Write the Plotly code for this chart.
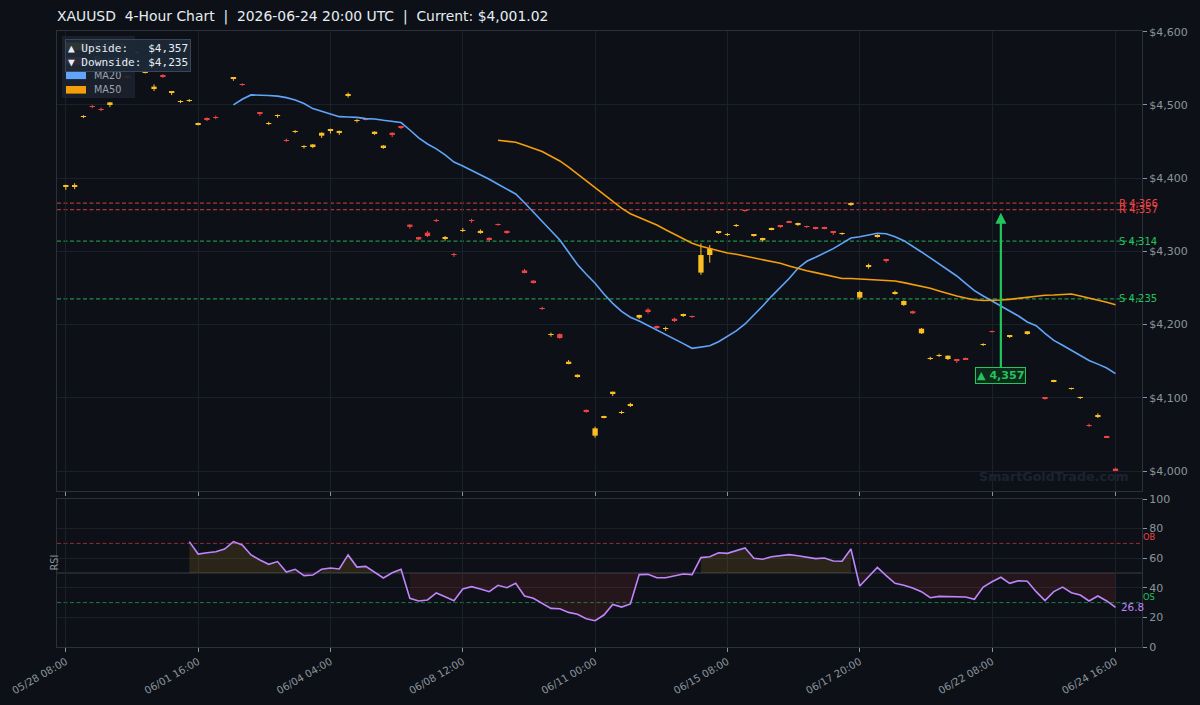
import plotly.graph_objects as go

# ---------------- data ----------------
tick_idx = [0, 15, 30, 45, 60, 75, 90, 105, 119]
tick_labels = ["05/28 08:00", "06/01 16:00", "06/04 04:00", "06/08 12:00", "06/11 00:00",
               "06/15 08:00", "06/17 20:00", "06/22 08:00", "06/24 16:00"]

opens = [4388, 4388, 4483.9, 4497.8, 4494.1, 4501, 4526, 4540, 4571.4, 4544.9,
         4522.5, 4539.7, 4516.5, 4504.4, 4505.9, 4473.9, 4482, 4483.1, 4510, 4535.5,
         4527.8, 4510, 4490, 4474.9, 4484.9, 4452.1, 4463.4, 4442.9, 4443.5, 4458,
         4464.5, 4462, 4512.5, 4478.4, 4480.6, 4461.5, 4442, 4462, 4471, 4336.5,
         4319.5, 4325.6, 4342.6, 4317, 4295.6, 4328.9, 4342.1, 4326, 4318.5, 4336.6,
         4328, 4300, 4274, 4260, 4222.1, 4185.9, 4187, 4147.5, 4129.5, 4083.5,
         4048.3, 4073.7, 4105.2, 4080, 4089.7, 4209.4, 4220.4, 4198.1, 4194.1, 4208,
         4213, 4210.7, 4271, 4295, 4325.1, 4323, 4335.3, 4355.5, 4321, 4315.2,
         4330.2, 4336, 4341.5, 4336, 4333.6, 4332.8, 4333.3, 4327, 4323.9, 4363.4,
         4236.8, 4279.1, 4320.9, 4289.6, 4242.8, 4226.8, 4218.2, 4188.1, 4153.8, 4157.9,
         4153, 4152.1, 4154.4, 4160, 4172.5, 4190.4, 4185, 4183.5, 4186, 4188.5,
         4150, 4100.7, 4122.9, 4120, 4112.3, 4099.9, 4062.5, 4074.7, 4046.6, 4003.2]
highs = [4391, 4393, 4486, 4500, 4496.5, 4504, 4527, 4541, 4573.5, 4547,
         4528, 4542, 4519, 4506.5, 4508, 4476, 4483, 4485.5, 4510, 4538,
         4529.5, 4510, 4490.5, 4477, 4487, 4454, 4465.5, 4445, 4446.5, 4462.5,
         4467.5, 4465, 4517, 4480.5, 4482, 4464, 4445, 4462.5, 4471.5, 4337,
         4320, 4328, 4344.5, 4321, 4298, 4332, 4344.5, 4330, 4319, 4338,
         4328.5, 4300, 4276, 4260.5, 4224.5, 4189, 4188, 4151.6, 4132, 4084,
         4060.5, 4075.5, 4108.5, 4082.4, 4093.3, 4213.5, 4222.7, 4198.5, 4197.1, 4209.4,
         4215, 4212.2, 4311, 4308.7, 4327.5, 4325.1, 4337.4, 4357, 4323.3, 4318.6,
         4332.3, 4336.3, 4342, 4339.2, 4335.1, 4333.5, 4333.6, 4327.3, 4325.6, 4366.6,
         4246.3, 4283.2, 4323.3, 4290, 4246.3, 4233.2, 4219, 4195.3, 4156.1, 4160.2,
         4157.8, 4152.4, 4155, 4160, 4174.4, 4191.7, 4185, 4185.1, 4186, 4191.1,
         4150, 4101, 4124.7, 4120, 4113.8, 4101.5, 4064.6, 4078.8, 4048.2, 4004.5]
lows = [4384, 4385, 4482, 4495.5, 4491.5, 4497, 4522, 4536, 4569.5, 4543,
        4519, 4537, 4513.5, 4502.5, 4504, 4472, 4478, 4480.5, 4510, 4533,
        4526, 4510, 4485, 4472.5, 4482.5, 4449.5, 4461.5, 4440.5, 4441, 4455,
        4461, 4459, 4510, 4476, 4479, 4459, 4440, 4456, 4467, 4331,
        4315, 4319.5, 4340, 4314.5, 4292.5, 4326.5, 4339, 4324, 4313, 4335,
        4324, 4300, 4270, 4256, 4220, 4183.5, 4180.5, 4145.8, 4127.5, 4079.5,
        4045.5, 4072, 4102.5, 4077.9, 4087.4, 4207.7, 4214.9, 4194, 4191.3, 4203.5,
        4210.4, 4209, 4268, 4284.6, 4323.8, 4321, 4333.3, 4354, 4320, 4313.2,
        4328.8, 4331.7, 4339, 4334.7, 4332, 4330, 4330.2, 4322.4, 4322.4, 4362,
        4234.5, 4276.4, 4318.7, 4284.6, 4240.8, 4225.4, 4214.6, 4187.2, 4151.6, 4155.7,
        4151.6, 4147.5, 4151.5, 4160, 4170.8, 4189, 4185, 4181.7, 4186, 4186.2,
        4150, 4097.5, 4121.2, 4120, 4111.1, 4098.4, 4060.1, 4072.4, 4045, 4000]
closes = [4390.5, 4390, 4484.1, 4497.6, 4493.9, 4503.5, 4523.5, 4537.5, 4571.6, 4545.1,
          4525, 4539.5, 4518.5, 4504.6, 4506.1, 4474.1, 4480, 4482.9, 4510, 4537.5,
          4527.6, 4510, 4488, 4475.1, 4485.1, 4451.9, 4463.6, 4443.1, 4446, 4462,
          4467, 4464.5, 4515, 4478.6, 4480.4, 4463.5, 4444.5, 4460, 4469, 4333.5,
          4316.3, 4321, 4342.4, 4319, 4295.4, 4329.1, 4341.9, 4328, 4316.5, 4336.4,
          4326, 4300, 4271.6, 4258, 4221.9, 4186.1, 4181.7, 4149.3, 4131.5, 4081.5,
          4058.3, 4073.9, 4108.3, 4080.2, 4091.5, 4213.1, 4218.2, 4195.4, 4194.3, 4205.3,
          4214.5, 4210.5, 4295, 4304, 4327, 4323.2, 4335.5, 4355.3, 4323, 4318.3,
          4332, 4334.6, 4339.8, 4338.8, 4333.4, 4331, 4331.5, 4325.1, 4324.1, 4365.2,
          4244.5, 4281.4, 4321.1, 4287.3, 4244.5, 4232.2, 4215.4, 4194.4, 4154, 4158.1,
          4157.5, 4150.3, 4152.1, 4160, 4172.7, 4190.2, 4185, 4184.8, 4186, 4190.8,
          4150, 4098.4, 4123.1, 4120, 4112.5, 4100.1, 4062.3, 4076.5, 4046.4, 4001.02]

ma20 = [4500, 4507.8, 4513.7, 4513.7, 4512.8, 4512, 4510, 4506.8, 4502, 4495,
        4491, 4487.7, 4484, 4483.6, 4483, 4481.3, 4480.9, 4479, 4478, 4476,
        4465.8, 4455, 4446.7, 4440, 4431.7, 4422, 4416.7, 4410.8, 4404.8, 4398.5,
        4391.7, 4384.8, 4378.4, 4366.5, 4353.8, 4342, 4329, 4315.6, 4298.7, 4282,
        4268.7, 4256.4, 4241.8, 4229, 4218, 4210, 4205, 4199, 4192, 4186,
        4180, 4174, 4167.6, 4169.4, 4171.2, 4176.6, 4183.5, 4191.3, 4200.8, 4212.7,
        4225.4, 4238.6, 4250.4, 4263, 4277, 4286.5, 4292, 4297.4, 4303.7, 4311,
        4318.3, 4320, 4322, 4324.7, 4324, 4320, 4314.6, 4307.4, 4299.2, 4291,
        4282.8, 4275, 4266.4, 4256.4, 4246.3, 4239, 4232.2, 4225.4, 4219, 4211.7,
        4203.5, 4198.5, 4188, 4178.5, 4171.7, 4164.9, 4158, 4151, 4146, 4140.7, 4133]
ma50 = [4451.7, 4450.8, 4449, 4445, 4441, 4436.5, 4430, 4423.5, 4415, 4405.7,
        4396, 4386.6, 4377, 4368.4, 4359, 4351.5, 4346.6, 4341.5, 4336, 4329.6,
        4323.3, 4317, 4311, 4307, 4304, 4300.5, 4297.8, 4296, 4293.7, 4291.4,
        4288.7, 4286, 4283.7, 4280, 4276.4, 4273.6, 4271, 4268, 4265.4, 4263,
        4263, 4262.3, 4262.3, 4261.4, 4260.5, 4259.6, 4257.3, 4255, 4252.3, 4249.6,
        4246, 4242.2, 4239, 4236.3, 4234, 4233, 4233, 4233.6, 4234.5, 4236,
        4238, 4239.5, 4240, 4240.4, 4241.4, 4241.8, 4239, 4236.3, 4233.6, 4230.5, 4227]
rsi = [71.2, 62.8, 63.7, 64.4, 66.2, 71.2, 68.9, 62.2, 58.8, 55.9,
       57.7, 50.7, 52.5, 48.2, 48.6, 52.5, 53.4, 52.7, 62.2, 54.0,
       54.5, 50.4, 46.6, 50.2, 52.5, 32.9, 31.1, 31.8, 36.5, 34.0,
       31.3, 39.2, 40.8, 39.2, 37.4, 41.7, 40.1, 43.0, 34.5, 32.9,
       29.5, 26.1, 25.9, 23.4, 22.1, 19.1, 17.8, 21.6, 28.8, 27.0,
       29.1, 48.9, 49.1, 46.8, 46.8, 48.2, 49.3, 48.9, 60.4, 61.0,
       63.7, 63.3, 64.9, 66.9, 59.9, 59.3, 61.0, 61.5, 62.4, 61.7,
       60.6, 59.7, 60.1, 58.1, 57.9, 66.2, 41.2, 47.5, 53.8, 48.2,
       43.0, 41.7, 39.9, 37.4, 33.3, 34.2, 34.0, 33.6, 33.8, 32.2,
       40.5, 44.1, 47.1, 43.0, 44.8, 44.4, 37.4, 31.3, 37.4, 40.5,
       36.7, 35.1, 31.1, 34.5, 31.1, 26.8]

resistance = [4366, 4357]
support = [4314, 4235]
upside_target = 4357
downside_target = 4235
signal_bar = 106
rsi_ob, rsi_os, rsi_mid = 70, 30, 50
current_price = "$4,001.02"

# ---------------- style ----------------
BG = "#0d1117"
GRID = "#1b212b"
SPINE = "#2b313a"
TXT = "#8b949e"
GOLD = "#fbbf24"
RED = "#ef4444"
GREEN = "#22c55e"
BLUE = "#60a5fa"
ORANGE = "#f59e0b"
PURPLE = "#c084fc"
FONT = "DejaVu Sans"
W, H = 1200, 705
L, R = 57 / W, 1142 / W
main_dom = [1 - 491 / H, 1 - 31 / H]
rsi_dom = [1 - 647 / H, 1 - 499 / H]

n = len(closes)
x = list(range(n))
fig = go.Figure()

# candles: wicks + bodies
for col, up in ((GOLD, True), (RED, False)):
    wx, wy, bx, bb, bh = [], [], [], [], []
    for i in x:
        if (closes[i] >= opens[i]) != up:
            continue
        wx += [i, i, None]
        wy += [lows[i], highs[i], None]
        bx.append(i)
        bb.append(min(opens[i], closes[i]))
        bh.append(abs(closes[i] - opens[i]))
    fig.add_trace(go.Scatter(x=wx, y=wy, mode="lines", line=dict(color=col, width=1),
                             hoverinfo="skip", xaxis="x", yaxis="y"))
    fig.add_trace(go.Bar(x=bx, y=bh, base=bb, width=0.6, marker=dict(color=col, line=dict(width=0)),
                         xaxis="x", yaxis="y"))

# moving averages
fig.add_trace(go.Scatter(x=x[n - len(ma20):], y=ma20, mode="lines", line=dict(color=BLUE, width=1.6),
                         xaxis="x", yaxis="y"))
fig.add_trace(go.Scatter(x=x[n - len(ma50):], y=ma50, mode="lines", line=dict(color=ORANGE, width=1.6),
                         xaxis="x", yaxis="y"))

# RSI fills (like fill_between with where=)
rx = x[n - len(rsi):]


def runs(cond):
    out, start = [], None
    for k, c in enumerate(cond):
        if c and start is None:
            start = k
        if not c and start is not None:
            out.append((start, k - 1)); start = None
    if start is not None:
        out.append((start, len(cond) - 1))
    return out


for cond, fc in (([v >= rsi_mid for v in rsi], "rgba(251,191,36,0.12)"),
                 ([v < rsi_mid for v in rsi], "rgba(239,68,68,0.11)")):
    for a, b in runs(cond):
        if b <= a:
            continue
        px = rx[a:b + 1] + rx[a:b + 1][::-1]
        py = rsi[a:b + 1] + [rsi_mid] * (b - a + 1)
        fig.add_trace(go.Scatter(x=px, y=py, mode="lines", fill="toself", fillcolor=fc,
                                 line=dict(width=0), hoverinfo="skip", xaxis="x2", yaxis="y2"))

fig.add_trace(go.Scatter(x=rx, y=rsi, mode="lines", line=dict(color=PURPLE, width=1.6),
                         xaxis="x2", yaxis="y2"))

shapes = []
annotations = []

# level lines
for lvl in resistance:
    shapes.append(dict(type="line", xref="x domain", yref="y", x0=0, x1=1, y0=lvl, y1=lvl,
                       line=dict(color="rgba(239,68,68,0.7)", width=1.2, dash="4px,2.5px"), layer="below"))
    annotations.append(dict(x=n - 1 + 0.3, y=lvl, xref="x", yref="y", text=f"R {lvl:,}", showarrow=False,
                            xanchor="left", yanchor="middle", font=dict(color=RED, size=10, family=FONT),
                            borderpad=0))
for lvl in support:
    shapes.append(dict(type="line", xref="x domain", yref="y", x0=0, x1=1, y0=lvl, y1=lvl,
                       line=dict(color="rgba(34,197,94,0.7)", width=1.2, dash="4px,2.5px"), layer="below"))
    annotations.append(dict(x=n - 1 + 0.3, y=lvl, xref="x", yref="y", text=f"S {lvl:,}", showarrow=False,
                            xanchor="left", yanchor="middle", font=dict(color=GREEN, size=10, family=FONT),
                            borderpad=0))

# RSI reference lines
shapes.append(dict(type="line", xref="x2 domain", yref="y2", x0=0, x1=1, y0=rsi_ob, y1=rsi_ob,
                   line=dict(color="rgba(239,68,68,0.6)", width=1, dash="4px,2.5px"), layer="below"))
shapes.append(dict(type="line", xref="x2 domain", yref="y2", x0=0, x1=1, y0=rsi_os, y1=rsi_os,
                   line=dict(color="rgba(34,197,94,0.6)", width=1, dash="4px,2.5px"), layer="below"))
shapes.append(dict(type="line", xref="x2 domain", yref="y2", x0=0, x1=1, y0=rsi_mid, y1=rsi_mid,
                   line=dict(color="rgba(139,148,158,0.35)", width=1), layer="below"))

annotations.append(dict(x=n + 2, y=rsi_ob, xref="x2", yref="y2", text="OB", showarrow=False,
                        xanchor="left", yanchor="bottom", font=dict(color=RED, size=8.3, family=FONT),
                        borderpad=0))
annotations.append(dict(x=n + 2, y=rsi_os, xref="x2", yref="y2", text="OS", showarrow=False,
                        xanchor="left", yanchor="bottom", font=dict(color=GREEN, size=8.3, family=FONT),
                        borderpad=0))
annotations.append(dict(x=n - 1 + 0.5, y=rsi[-1], xref="x2", yref="y2", text=f"{rsi[-1]:.1f}",
                        showarrow=False, xanchor="left", yanchor="middle",
                        font=dict(color=PURPLE, size=10.4, family=FONT), borderpad=0))
annotations.append(dict(x=46 / W, y=1 - 573 / H, xref="paper", yref="paper", text="RSI", textangle=-90,
                        showarrow=False, font=dict(color=TXT, size=9.7, family=FONT)))

# signal arrow
annotations.append(dict(x=signal_bar, y=upside_target, xref="x", yref="y",
                        ax=signal_bar, ay=4130, axref="x", ayref="y",
                        text=f"<b>▲ {upside_target:,}</b>", showarrow=True, arrowhead=2, arrowsize=1,
                        arrowwidth=2.2, arrowcolor=GREEN, standoff=3,
                        font=dict(color=GREEN, size=11.1, family=FONT),
                        bgcolor="#0e2a1b", bordercolor=GREEN, borderwidth=1, borderpad=1))

# watermark
annotations.append(dict(x=1131 / W, y=1 - 476 / H, xref="paper", yref="paper", text="<b>SmartGoldTrade.com</b>",
                        showarrow=False, xanchor="right", yanchor="middle",
                        font=dict(color="#1c2330", size=12.7, family=FONT)))

# legend (drawn manually)
shapes.append(dict(type="rect", xref="paper", yref="paper", x0=62 / W, x1=135 / W, y0=1 - 98 / H, y1=1 - 36 / H,
                   fillcolor="rgba(27,34,46,0.9)", line=dict(width=0), layer="above"))
leg_items = [("Bullish", GOLD), ("Bearish", RED), ("MA20", BLUE), ("MA50", ORANGE)]
for k, (name, col) in enumerate(leg_items):
    yc = 46.3 + k * 14.5
    shapes.append(dict(type="rect", xref="paper", yref="paper", x0=66 / W, x1=86 / W,
                       y0=1 - (yc + 3.8) / H, y1=1 - (yc - 3.8) / H, fillcolor=col, line=dict(width=0),
                       layer="above"))
    annotations.append(dict(x=93 / W, y=1 - yc / H, xref="paper", yref="paper", text=name, showarrow=False,
                            xanchor="left", yanchor="middle", font=dict(color="#9aa3ae", size=9.7, family=FONT),
                            borderpad=0))

# target box
annotations.append(dict(x=128 / W, y=1 - 55.7 / H, xref="paper", yref="paper",
                        text=f"▲ Upside:\u00a0\u00a0\u00a0${upside_target:,}<br>▼ Downside: ${downside_target:,}",
                        showarrow=False, xanchor="center", yanchor="middle", align="left",
                        font=dict(color="#e6edf3", size=11.1, family="DejaVu Sans Mono"),
                        bgcolor="rgba(30,41,56,0.93)", bordercolor="#3a4657", borderwidth=1, borderpad=2))

axis_common = dict(showgrid=True, gridcolor=GRID, gridwidth=1, zeroline=False, showline=True,
                   linecolor=SPINE, linewidth=1, mirror=True, ticks="outside", ticklen=4,
                   tickcolor=TXT, automargin=False, tickfont=dict(color=TXT, size=11, family=FONT))

fig.update_layout(
    width=W, height=H, margin=dict(l=0, r=0, t=0, b=0),
    paper_bgcolor=BG, plot_bgcolor=BG, showlegend=False, barmode="overlay",
    font=dict(family=FONT, color=TXT),
    title=dict(text=f"XAUUSD  4-Hour Chart  |  2026-06-24 20:00 UTC  |  Current: {current_price}",
               x=L, xanchor="left", y=1 - 16 / H, yanchor="middle", xref="paper", yref="paper",
               font=dict(color="#e6edf3", size=13.9, family=FONT)),
    xaxis=dict(domain=[L, R], range=[-1, n + 2], anchor="y", tickvals=tick_idx, showticklabels=False,
               **axis_common),
    xaxis2=dict(domain=[L, R], range=[-1, n + 2], anchor="y2", matches="x", tickvals=tick_idx,
                ticktext=tick_labels, tickangle=-30,
                **{**axis_common, "tickfont": dict(color=TXT, size=10.2, family=FONT)}),
    yaxis=dict(domain=main_dom, range=[3972.7, 4601], anchor="x", side="right", tick0=4000, dtick=100,
               tickprefix="$", tickformat=",d", **axis_common),
    yaxis2=dict(domain=rsi_dom, range=[0, 100], anchor="x2", side="right", tickvals=[0, 20, 40, 60, 80, 100],
                **axis_common),
    shapes=shapes, annotations=annotations,
)

fig.write_html("out.html")
